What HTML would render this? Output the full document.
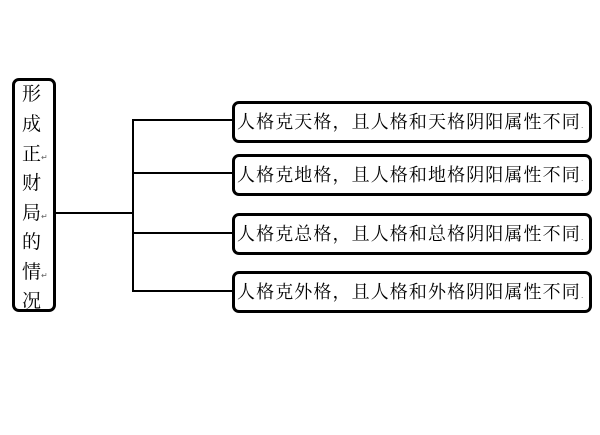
<!DOCTYPE html>
<html><head><meta charset="utf-8"><style>
html,body{margin:0;padding:0;background:#fff;width:600px;height:435px;overflow:hidden;position:relative}
.f{font-family:"Noto Serif CJK SC","Noto Sans CJK SC",serif;color:#000}
.box{position:absolute;border:3px solid #000;border-radius:7px;box-sizing:border-box}
.r{left:232px;width:360px;height:42px;font-size:18px;line-height:35px;padding-left:2px;white-space:nowrap;letter-spacing:1.1px}
.ln{position:absolute;background:#000}
.ch{position:absolute;left:22px;font-size:19px;line-height:20px}
.m{font-size:8px;color:#666;letter-spacing:0}
</style></head><body class="f">
<div class="box" style="left:12px;top:78px;width:44px;height:234px"></div>
<div class="ch" style="top:83px">形</div>
<div class="ch" style="top:113px">成</div>
<div class="ch" style="top:143px">正<span class="m">↵</span></div>
<div class="ch" style="top:172px">财</div>
<div class="ch" style="top:202px">局<span class="m">↵</span></div>
<div class="ch" style="top:231px">的</div>
<div class="ch" style="top:261px">情<span class="m">↵</span></div>
<div class="ch" style="top:290px">况</div>

<div class="ln" style="left:56px;top:212px;width:78px;height:2px"></div>
<div class="ln" style="left:132px;top:119px;width:2px;height:173px"></div>
<div class="ln" style="left:132px;top:119px;width:101px;height:2px"></div>
<div class="ln" style="left:132px;top:172px;width:101px;height:2px"></div>
<div class="ln" style="left:132px;top:232px;width:101px;height:2px"></div>
<div class="ln" style="left:132px;top:290px;width:101px;height:2px"></div>

<div class="box r" style="top:101px">人格克天格，且人格和天格阴阳属性不同<span class="m">.</span></div>
<div class="box r" style="top:154px">人格克地格，且人格和地格阴阳属性不同<span class="m">.</span></div>
<div class="box r" style="top:213px">人格克总格，且人格和总格阴阳属性不同<span class="m">.</span></div>
<div class="box r" style="top:271px">人格克外格，且人格和外格阴阳属性不同<span class="m">.</span></div>
</body></html>
